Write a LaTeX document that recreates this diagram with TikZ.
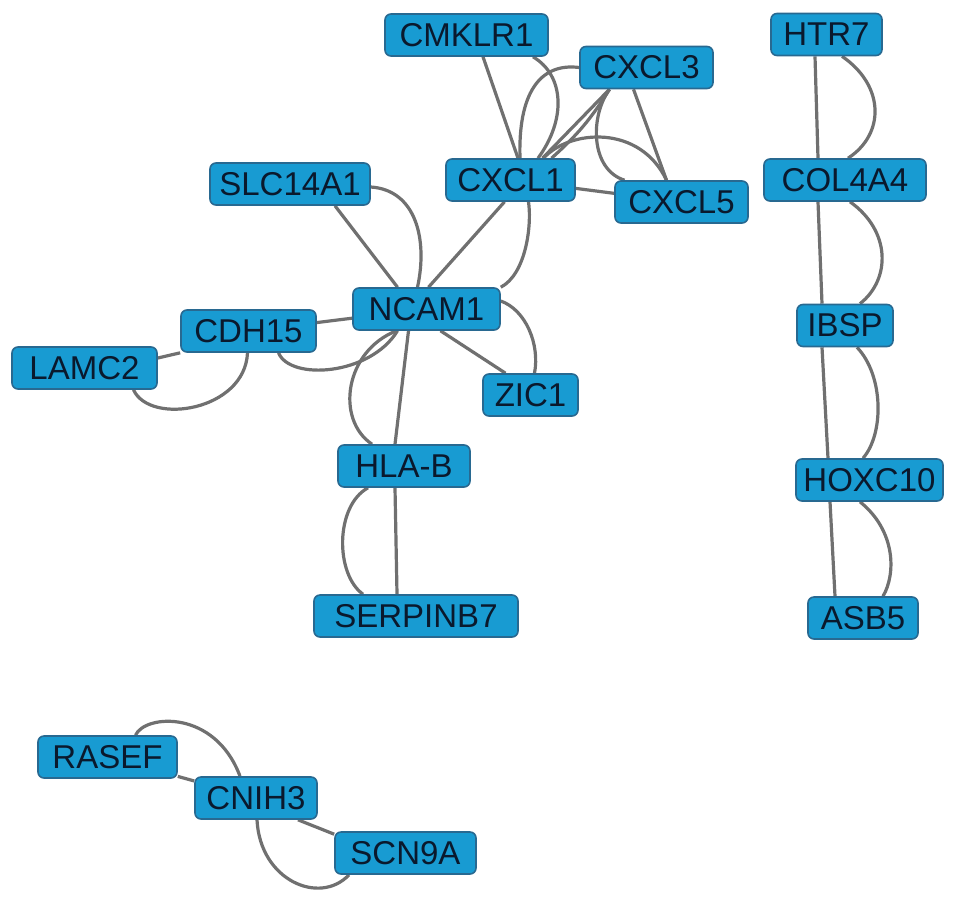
\documentclass[tikz,border=0pt]{standalone}
\usepackage{fontspec}
\setmainfont{Liberation Sans}
\usetikzlibrary{backgrounds}
\definecolor{genefill}{RGB}{24,155,210}
\definecolor{geneedge}{RGB}{40,105,145}
\definecolor{genetext}{RGB}{10,25,45}
\definecolor{linkgray}{RGB}{112,112,112}
\tikzset{
  gene/.style={draw=geneedge, fill=genefill, line width=1.6pt, rounded corners=6pt,
    minimum height=42pt, inner xsep=0pt, inner ysep=0pt, text=genetext,
    font=\fontsize{33pt}{38pt}\selectfont},
  link/.style={draw=linkgray, line width=3.2pt}
}
\begin{document}
\begin{tikzpicture}[x=1pt,y=-1pt]
\useasboundingbox (0,0) rectangle (969,898);
% nodes
\node[gene, minimum width=163pt] (cmklr1) at (466.5,35) {CMKLR1};
\node[gene, minimum width=133pt] (cxcl3) at (646.5,67.5) {CXCL3};
\node[gene, minimum width=111pt] (htr7) at (826.5,34.5) {HTR7};
\node[gene, minimum width=160pt] (slc) at (290,184) {SLC14A1};
\node[gene, minimum width=129pt] (cxcl1) at (510.5,180) {CXCL1};
\node[gene, minimum width=133pt] (cxcl5) at (681.5,202) {CXCL5};
\node[gene, minimum width=162pt] (col) at (845,180) {COL4A4};
\node[gene, minimum width=147pt] (ncam) at (426.5,309) {NCAM1};
\node[gene, minimum width=135pt] (cdh) at (248.5,331) {CDH15};
\node[gene, minimum width=145pt] (lamc) at (84.5,368) {LAMC2};
\node[gene, minimum width=96pt] (ibsp) at (845,325.5) {IBSP};
\node[gene, minimum width=95pt] (zic) at (530.5,395) {ZIC1};
\node[gene, minimum width=132pt] (hla) at (404,466) {HLA-B};
\node[gene, minimum width=147pt] (hox) at (869.5,480) {HOXC10};
\node[gene, minimum width=204pt] (serp) at (416,616) {SERPINB7};
\node[gene, minimum width=110pt] (asb) at (863,618) {ASB5};
\node[gene, minimum width=139pt] (rasef) at (107.5,757) {RASEF};
\node[gene, minimum width=122pt] (cnih) at (256,798) {CNIH3};
\node[gene, minimum width=141pt] (scn) at (405.5,853) {SCN9A};
% edges
\begin{pgfonlayer}{background}
% CXCL cluster
\draw[link] ([xshift=16.5pt]cmklr1.south) -- ([xshift=7.5pt]cxcl1.north);
\draw[link] ([xshift=66.5pt]cmklr1.south) .. controls +(32,19) and +(28,-38) .. ([xshift=27.5pt]cxcl1.north);
\draw[link] (cxcl3.west) .. controls +(-40,-5) and +(-2,-64) .. ([xshift=9.5pt]cxcl1.north);
\draw[link] ([xshift=-37pt]cxcl3.south) -- ([xshift=32pt]cxcl1.north);
\draw[link] ([xshift=-37pt]cxcl3.south) to[bend left=8] ([xshift=41pt]cxcl1.north);
\draw[link] ([xshift=-13pt]cxcl3.south) -- ([xshift=-15pt]cxcl5.north);
\draw[link] ([xshift=-37pt]cxcl3.south) .. controls +(-19.5,26.5) and +(-34.5,-11) .. ([xshift=-57pt]cxcl5.north);
\draw[link] (cxcl1) -- (cxcl5);
\draw[link] ([xshift=33pt]cxcl1.north) .. controls +(26.5,-29) and +(-26.5,-56) .. ([xshift=-15pt]cxcl5.north);
% NCAM1 cluster
\draw[link] ([xshift=45pt]slc.south) -- ([xshift=-29pt]ncam.north);
\draw[link] ([yshift=-3pt]slc.east) .. controls +(45,3) and +(10.5,-48) .. ([xshift=-9pt]ncam.north);
\draw[link] ([xshift=-6pt]cxcl1.south) -- ([xshift=2pt]ncam.north);
\draw[link] ([xshift=18pt]cxcl1.south) .. controls +(3.5,24) and +(25,-13) .. (ncam.north east);
\draw[link] (cdh) -- (ncam);
\draw[link] ([xshift=30pt]cdh.south) .. controls +(11.5,28) and +(-27.5,45) .. ([xshift=-29pt]ncam.south);
\draw[link] ([yshift=10pt]lamc.east) -- (cdh.south west);
\draw[link] ([xshift=49pt]lamc.south) .. controls +(16.5,36) and +(-2.5,58) .. ([xshift=-1pt]cdh.south);
\draw[link] ([xshift=14pt]ncam.south) -- ([xshift=-25pt]zic.north);
\draw[link] ([yshift=8pt]ncam.east) .. controls +(25,9) and +(5.5,-29) .. ([xshift=4pt]zic.north);
\draw[link] ([xshift=-18pt]ncam.south) -- ([xshift=-9pt]hla.north);
\draw[link] ([xshift=-30pt]ncam.south) .. controls +(-51.5,20) and +(-37,-25) .. ([xshift=-32pt]hla.north);
\draw[link] ([xshift=-9pt]hla.south) -- ([xshift=-19pt]serp.north);
\draw[link] ([xshift=-36pt]hla.south) .. controls +(-33,18) and +(-28,-20) .. ([xshift=-53pt]serp.north);
% right column
\draw[link] ([xshift=-11.5pt]htr7.south) -- ([xshift=-27pt]col.north);
\draw[link] ([xshift=15.5pt]htr7.south) .. controls +(43,29.5) and +(37,-24) .. ([xshift=3pt]col.north);
\draw[link] ([xshift=-27pt]col.south) -- ([xshift=-23pt]ibsp.north);
\draw[link] ([xshift=5pt]col.south) .. controls +(41,29) and +(31,-24.5) .. ([xshift=15pt]ibsp.north);
\draw[link] ([xshift=-23pt]ibsp.south) -- ([xshift=-41.5pt]hox.north);
\draw[link] ([xshift=12pt]ibsp.south) .. controls +(27,28.5) and +(21,-24) .. ([xshift=-6.5pt]hox.north);
\draw[link] ([xshift=-39.5pt]hox.south) -- ([xshift=-28pt]asb.north);
\draw[link] ([xshift=-9.5pt]hox.south) .. controls +(36,29) and +(13,-22) .. ([xshift=20pt]asb.north);
% bottom
\draw[link] (rasef) -- (cnih);
\draw[link] ([xshift=28pt]rasef.north) .. controls +(9.5,-21) and +(-25,-67) .. ([xshift=-16pt]cnih.north);
\draw[link] ([xshift=42pt]cnih.south) -- ([yshift=-3pt]scn.north west);
\draw[link] ([xshift=1pt]cnih.south) .. controls +(3,61) and +(-29,31) .. ([xshift=-56.5pt]scn.south);
\end{pgfonlayer}
\end{tikzpicture}
\end{document}
